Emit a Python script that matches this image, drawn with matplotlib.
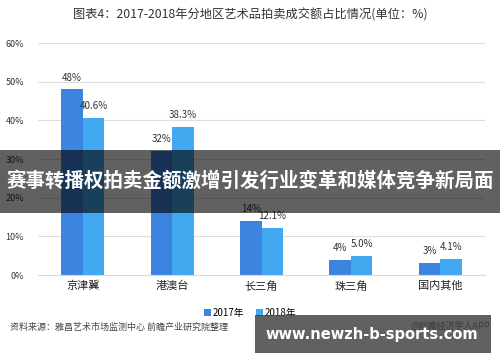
import matplotlib
matplotlib.use("Agg")
import matplotlib.pyplot as plt
import numpy as np
from matplotlib.patches import Rectangle

plt.rcParams['font.family'] = ['Noto Sans CJK SC', 'DejaVu Sans']

categories = ['京津冀', '港澳台', '长三角', '珠三角', '国内其他']
v2017 = [48, 32, 14, 4, 3]
v2018 = [40.6, 38.3, 12.1, 5.0, 4.1]
lab2017 = ['48%', '32%', '14%', '4%', '3%']
lab2018 = ['40.6%', '38.3%', '12.1%', '5.0%', '4.1%']
yticks = [0, 10, 20, 30, 40, 50, 60]
ytick_labels = ['0%', '10%', '20%', '30%', '40%', '50%', '60%']
series_names = ['2017年', '2018年']
title = '图表4：2017-2018年分地区艺术品拍卖成交额占比情况(单位：%)'
source = '资料来源：雅昌艺术市场监测中心 前瞻产业研究院整理'
credit = '@前瞻经济学人APP'
banner = '赛事转播权拍卖金额激增引发行业变革和媒体竞争新局面'
site = 'www.newzh-b-sports.com'

c17 = '#3d84e0'
c18 = '#42a8f0'

fig = plt.figure(figsize=(5, 3.62), dpi=100)
ax = fig.add_axes([0.076, 0.2403, 0.894, 0.6407])
x = np.arange(len(categories))
w = 0.24
b1 = ax.bar(x - w/2, v2017, w, color=c17, label=series_names[0])
b2 = ax.bar(x + w/2, v2018, w, color=c18, label=series_names[1])
for rect, t in zip(b1, lab2017):
    ax.text(rect.get_x() + rect.get_width()/2, rect.get_height() + 1.8, t,
            ha='center', va='bottom', fontsize=7, color='#333333')
for rect, t in zip(b2, lab2018):
    ax.text(rect.get_x() + rect.get_width()/2, rect.get_height() + 1.8, t,
            ha='center', va='bottom', fontsize=7, color='#333333')
ax.set_xlim(-0.5, len(categories) - 0.5)
ax.set_ylim(0, 60)
ax.set_yticks(yticks)
ax.set_yticklabels(ytick_labels, fontsize=6.5, color='#333333')
ax.set_xticks(x)
ax.set_xticklabels(categories, fontsize=8, color='#222222')
ax.tick_params(axis='both', length=0)
ax.tick_params(axis='y', pad=10)
ax.tick_params(axis='x', pad=4)
ax.grid(axis='y', color='#dddddd', linewidth=0.8)
ax.set_axisbelow(True)
for s in ['top', 'right', 'left']:
    ax.spines[s].set_visible(False)
ax.spines['bottom'].set_color('#d9d9d9')

fig.text(0.5, 0.958, title, ha='center', va='center', fontsize=8.8, color='#333333')
leg = fig.legend(handles=[b1, b2], labels=series_names, loc='center',
                 bbox_to_anchor=(0.5, 0.135), ncol=2, frameon=False,
                 fontsize=7, handlelength=0.7, handleheight=0.7,
                 handletextpad=0.2, columnspacing=1.2)
fig.text(0.02, 0.097, source, ha='left', va='center', fontsize=6.5,
         color='#444444', style='italic')
fig.text(0.98, 0.097, credit, ha='right', va='center', fontsize=6.5, color='#444444')

# overlay banners
fig.patches.append(Rectangle((0, 1 - 213/362), 1, 63/362, transform=fig.transFigure,
                             facecolor='black', alpha=0.62, zorder=10))
fig.text(0.5, 1 - 181/362, banner, ha='center', va='center', fontsize=14,
         color='white', fontweight='bold', zorder=11)
fig.patches.append(Rectangle((255/500, 1 - 353/362), 236/500, 38/362,
                             transform=fig.transFigure, facecolor='#3a3a3a',
                             alpha=0.8, zorder=10))
fig.text(372/500, 1 - 334/362, site, ha='center', va='center', fontsize=10.5,
         color='white', fontweight='bold', family='DejaVu Sans', zorder=11)

fig.savefig('out.png', dpi=100)
